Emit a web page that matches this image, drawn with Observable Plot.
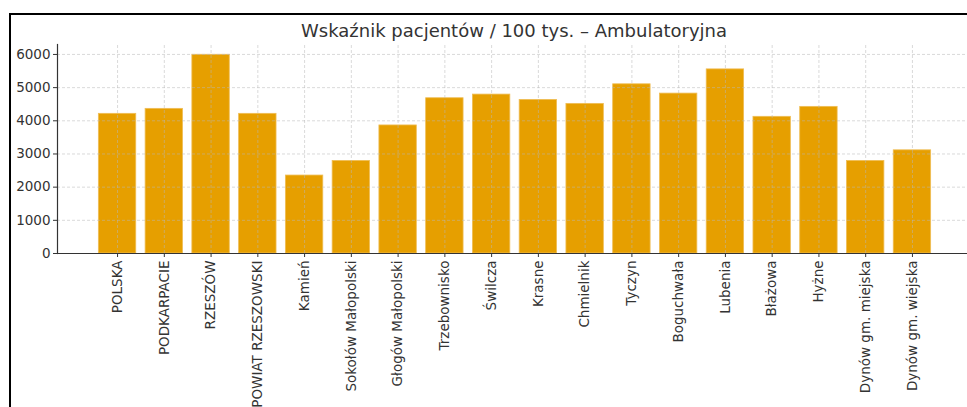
<!DOCTYPE html>
<html>
<head>
<meta charset="utf-8">
<script src="https://cdn.jsdelivr.net/npm/d3@7"></script>
<script src="https://cdn.jsdelivr.net/npm/@observablehq/plot@0.6"></script>
<style>
  html, body { margin: 0; padding: 0; background: #fff; overflow: hidden; }
  #wrap { position: relative; width: 967px; height: 407px; overflow: hidden; font-family: "DejaVu Sans", sans-serif; }
  #border { position: absolute; left: 9px; top: 13px; width: 990px; height: 430px; border: 2px solid #000; box-sizing: border-box; }
  #title { position: absolute; left: 57px; width: 914px; top: 20px; text-align: center; font-size: 18px; color: #333; white-space: nowrap; }
  #chart { position: absolute; left: 0; top: 0; }
</style>
</head>
<body>
<div id="wrap">
  <div id="border"></div>
  <div id="title">Wskaźnik pacjentów / 100 tys. – Ambulatoryjna</div>
  <div id="chart"></div>
</div>
<script>
const categories = ["POLSKA", "PODKARPACIE", "RZESZÓW", "POWIAT RZESZOWSKI", "Kamień", "Sokołów Małopolski", "Głogów Małopolski", "Trzebownisko", "Świlcza", "Krasne", "Chmielnik", "Tyczyn", "Boguchwała", "Lubenia", "Błażowa", "Hyżne", "Dynów gm. miejska", "Dynów gm. wiejska"];
const values = [4210, 4360, 5990, 4210, 2350, 2790, 3860, 4680, 4790, 4630, 4510, 5100, 4820, 5550, 4120, 4420, 2790, 3110];
const yTicks = [0, 1000, 2000, 3000, 4000, 5000, 6000];

const data = categories.map((c, i) => ({ category: c, value: values[i] }));
const gridStyle = { stroke: "#b8b8b8", strokeOpacity: 0.65, strokeDasharray: "3,2", strokeWidth: 0.8 };

const chart = Plot.plot({
  width: 967,
  height: 407,
  marginTop: 44,
  marginBottom: 154,
  marginLeft: 57,
  marginRight: 0,
  style: { fontFamily: "DejaVu Sans, sans-serif", fontSize: "13.5px", color: "#333", background: "transparent" },
  x: { domain: categories, range: [89, 940], padding: 0.2, round: false, label: null },
  y: { domain: [0, 6300], label: null },
  marks: [
    Plot.barY(data, { x: "category", y: "value", fill: "#E69F00", stroke: "#efbd55", strokeWidth: 0.8 }),
    Plot.gridY(yTicks, { ...gridStyle }),
    Plot.gridX(categories, { ...gridStyle, y1: 0, y2: 6300 }),
    Plot.frame({ anchor: "left", stroke: "#333", strokeWidth: 1.2 }),
    Plot.frame({ anchor: "bottom", stroke: "#333", strokeWidth: 1.2 }),
    Plot.axisY(yTicks, { tickSize: 4, tickPadding: 3, stroke: "#333", fill: "#333", fontSize: 13.5, tickFormat: d => String(d), label: null }),
    Plot.axisX(categories, { tickSize: 4, tickPadding: 3, tickRotate: -90, stroke: "#333", fill: "#333", fontSize: 13.5, label: null })
  ]
});
document.getElementById("chart").appendChild(chart);
</script>
</body>
</html>
